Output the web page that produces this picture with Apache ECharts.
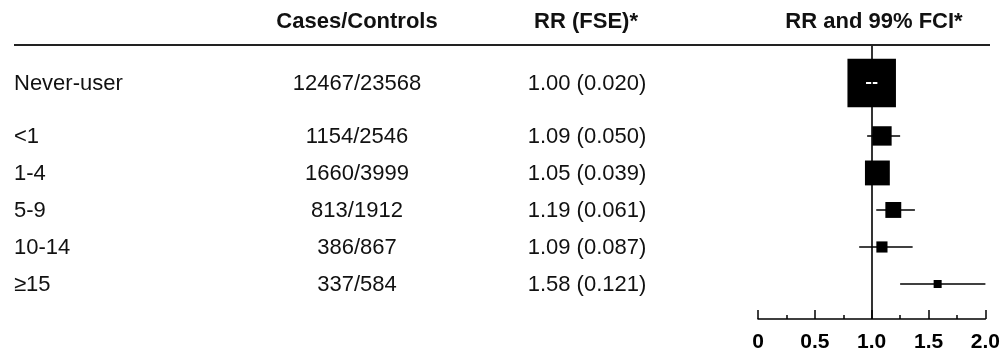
<!DOCTYPE html>
<html>
<head>
<meta charset="utf-8">
<script src="https://cdn.jsdelivr.net/npm/echarts@6/dist/echarts.min.js"></script>
<style>html,body{margin:0;padding:0;background:#fff}#c{width:1003px;height:358px}</style>
</head>
<body>
<div id="c"></div>
<script>
const categories = ['Never-user', '<1', '1-4', '5-9', '10-14', '\u226515'];
const casesControls = ['12467/23568', '1154/2546', '1660/3999', '813/1912', '386/867', '337/584'];
const rr = [1.00, 1.09, 1.05, 1.19, 1.09, 1.58];
const fse = [0.020, 0.050, 0.039, 0.061, 0.087, 0.121];
const ciLow = [0.95, 0.96, 0.97, 1.04, 0.89, 1.25];
const ciHigh = [1.05, 1.25, 1.14, 1.38, 1.36, 2.00];
const xTickLabels = ['0', '0.5', '1.0', '1.5', '2.0'];
const headers = ['Cases/Controls', 'RR (FSE)*', 'RR and 99% FCI*'];

const FONT = "'Liberation Sans', Arial, Helvetica, sans-serif";
const rowPos = i => (i === 0 ? 0 : i + 0.43);
const rrText = i => rr[i].toFixed(2) + ' (' + fse[i].toFixed(3) + ')';

const data = categories.map((c, i) => [rr[i], rowPos(i), ciLow[i], ciHigh[i], fse[i], i]);

const chart = echarts.init(document.getElementById('c'));
chart.setOption({
  animation: false,
  backgroundColor: '#fff',
  grid: { left: 758, right: 14, top: 45, bottom: 39 },
  xAxis: {
    type: 'value', min: 0, max: 2, interval: 0.5,
    splitLine: { show: false },
    axisLine: { show: true, onZero: false, lineStyle: { color: '#000', width: 1.5 } },
    axisTick: { show: true, inside: true, length: 9, lineStyle: { color: '#000', width: 1.5 } },
    minorTick: { show: true, splitNumber: 2, length: 4, lineStyle: { color: '#000', width: 1.5 } },
    axisLabel: {
      color: '#000', fontFamily: FONT, fontSize: 21, fontWeight: 'bold', margin: 13,
      formatter: v => xTickLabels[Math.round(v / 0.5)]
    }
  },
  yAxis: { type: 'value', min: -1.027, max: 6.376, inverse: true, show: false, splitLine: { show: false } },
  graphic: [
    { type: 'line', shape: { x1: 14, y1: 45, x2: 990, y2: 45 }, style: { stroke: '#222', lineWidth: 2 }, z: 10 },
    { type: 'text', x: 357, y: 22, style: { text: headers[0], font: 'bold 22px ' + FONT, fill: '#111', textAlign: 'center', textVerticalAlign: 'middle' } },
    { type: 'text', x: 586, y: 22, style: { text: headers[1], font: 'bold 22px ' + FONT, fill: '#111', textAlign: 'center', textVerticalAlign: 'middle' } },
    { type: 'text', x: 874, y: 22, style: { text: headers[2], font: 'bold 22px ' + FONT, fill: '#111', textAlign: 'center', textVerticalAlign: 'middle' } }
  ],
  series: [{
    type: 'custom',
    clip: false,
    data: data,
    renderItem: function (params, api) {
      const i = api.value(5);
      const pos = api.value(1);
      const pt = api.coord([api.value(0), pos]);
      const cx = pt[0], y = pt[1];
      const lo = api.coord([api.value(2), pos])[0];
      const hi = api.coord([api.value(3), pos])[0];
      const size = 0.97 / api.value(4);
      const children = [
        { type: 'line', shape: { x1: lo, y1: y, x2: hi, y2: y }, style: { stroke: '#000', lineWidth: 1.6 } },
        { type: 'rect', shape: { x: cx - size / 2, y: y - size / 2, width: size, height: size }, style: { fill: '#000' } },
        { type: 'text', x: 14, y: y + 1, style: { text: categories[i], font: '22px ' + FONT, fill: '#111', textAlign: 'left', textVerticalAlign: 'middle' } },
        { type: 'text', x: 357, y: y + 1, style: { text: casesControls[i], font: '22px ' + FONT, fill: '#111', textAlign: 'center', textVerticalAlign: 'middle' } },
        { type: 'text', x: 587, y: y + 1, style: { text: rrText(i), font: '22px ' + FONT, fill: '#111', textAlign: 'center', textVerticalAlign: 'middle' } }
      ];
      if (rr[i] === 1) {
        children.push({ type: 'line', z2: 5, shape: { x1: lo, y1: y, x2: hi, y2: y }, style: { stroke: '#fff', lineWidth: 2 } });
      }
      return { type: 'group', children: children };
    },
    markLine: {
      silent: true, symbol: 'none', animation: false,
      label: { show: false },
      lineStyle: { color: '#000', width: 1.6, type: 'solid' },
      data: [{ xAxis: 1 }]
    }
  }]
});
</script>
</body>
</html>
